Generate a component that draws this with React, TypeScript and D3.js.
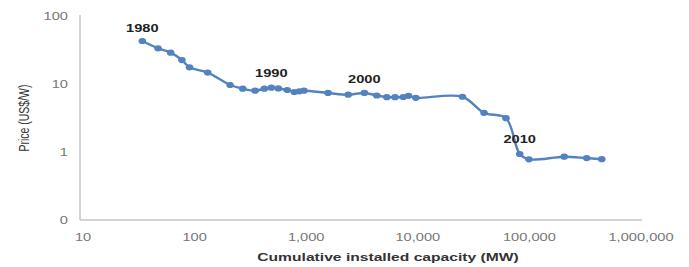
import * as d3 from 'd3';

// Cumulative installed capacity (MW) and module price (US$/W).
const capacity = [
  34, 47, 61, 77, 90, 131, 208, 270, 348, 422, 487, 562, 677, 782, 867, 955,
  1570, 2380, 3320, 4290, 5270, 6250, 7410, 8260, 9600, 25100, 39200, 61700,
  81900, 99100, 205000, 326000, 445000,
];
const price = [
  42.9, 33.5, 28.9, 22.5, 17.6, 14.7, 9.67, 8.53, 7.97, 8.53, 8.83, 8.6, 8.16,
  7.63, 7.81, 7.97, 7.38, 6.96, 7.38, 6.78, 6.4, 6.4, 6.44, 6.71, 6.27, 6.49,
  3.77, 3.14, 0.935, 0.78, 0.853, 0.813, 0.784,
];
// Year annotations: label + index of the point it sits above.
const yearLabels = ['1980', '1990', '2000', '2010'];
const yearIndex = [0, 10, 18, 28];

const xTicks = [10, 100, 1000, 10000, 100000, 1000000];
const xTickLabels = ['10', '100', '1,000', '10,000', '100,000', '1,000,000'];
const yTicks = [0.1, 1, 10, 100];
const yTickLabels = ['0', '1', '10', '100'];

const WIDTH = 689;
const HEIGHT = 267;
const SX = 1.33; // the reference text is stretched horizontally
const FONT = '"Liberation Sans", Arial, Helvetica, sans-serif';

export default function App() {
  const x = d3.scaleLog().domain([10, 1000000]).range([83, 641]);
  const y = d3.scaleLog().domain([0.1, 100]).range([220, 16]);
  const axisLeft = 80;

  const pts: [number, number][] = capacity.map((c, i) => [x(c), y(price[i])]);
  const line = d3.line().curve(d3.curveCatmullRom.alpha(0.5))(pts) ?? '';

  const color = '#5283bf';
  const yearOffset = [-9, -11, -10, -11];

  return (
    <svg
      width={WIDTH}
      height={HEIGHT}
      style={{ position: 'absolute', left: 0, top: 0, background: '#fff' }}
      fontFamily={FONT}
    >
      {/* axes */}
      <line x1={axisLeft} x2={axisLeft} y1={y(100) - 1} y2={y(0.1)} stroke="#c4c4c4" strokeWidth={1.5} />
      <line x1={axisLeft} x2={642} y1={y(0.1)} y2={y(0.1)} stroke="#c4c4c4" strokeWidth={1.5} />

      {yTicks.map((t, i) => (
        <text
          key={`yt-${i}`}
          transform={`translate(68,${y(t) + 4}) scale(${SX},1)`}
          textAnchor="end"
          fontSize={11}
          fill="#777"
        >
          {yTickLabels[i]}
        </text>
      ))}

      {xTicks.map((t, i) => (
        <text
          key={`xt-${i}`}
          transform={`translate(${x(t)},241) scale(${SX},1)`}
          textAnchor="middle"
          fontSize={11}
          fill="#777"
        >
          {xTickLabels[i]}
        </text>
      ))}

      {/* axis titles */}
      <text
        transform={`translate(388,261) scale(1.49,1)`}
        textAnchor="middle"
        fontSize={10.5}
        fontWeight="bold"
        fill="#333"
      >
        Cumulative installed capacity (MW)
      </text>
      <text
        transform={`translate(29,118) rotate(-90) scale(1,${SX})`}
        textAnchor="middle"
        fontSize={10.5}
        fill="#333"
      >
        Price (US$/W)
      </text>

      {/* series */}
      <path d={line} fill="none" stroke={color} strokeWidth={2.4} strokeLinejoin="round" />
      {pts.map(([px, py], i) => (
        <ellipse key={`pt-${i}`} cx={px} cy={py} rx={3.8} ry={3.1} fill={color} />
      ))}

      {yearLabels.map((lab, i) => {
        const [px, py] = pts[yearIndex[i]];
        return (
          <text
            key={`yr-${i}`}
            transform={`translate(${px},${py + yearOffset[i]}) scale(${SX},1)`}
            textAnchor="middle"
            fontSize={11}
            fontWeight="bold"
            fill="#222"
          >
            {lab}
          </text>
        );
      })}
    </svg>
  );
}
